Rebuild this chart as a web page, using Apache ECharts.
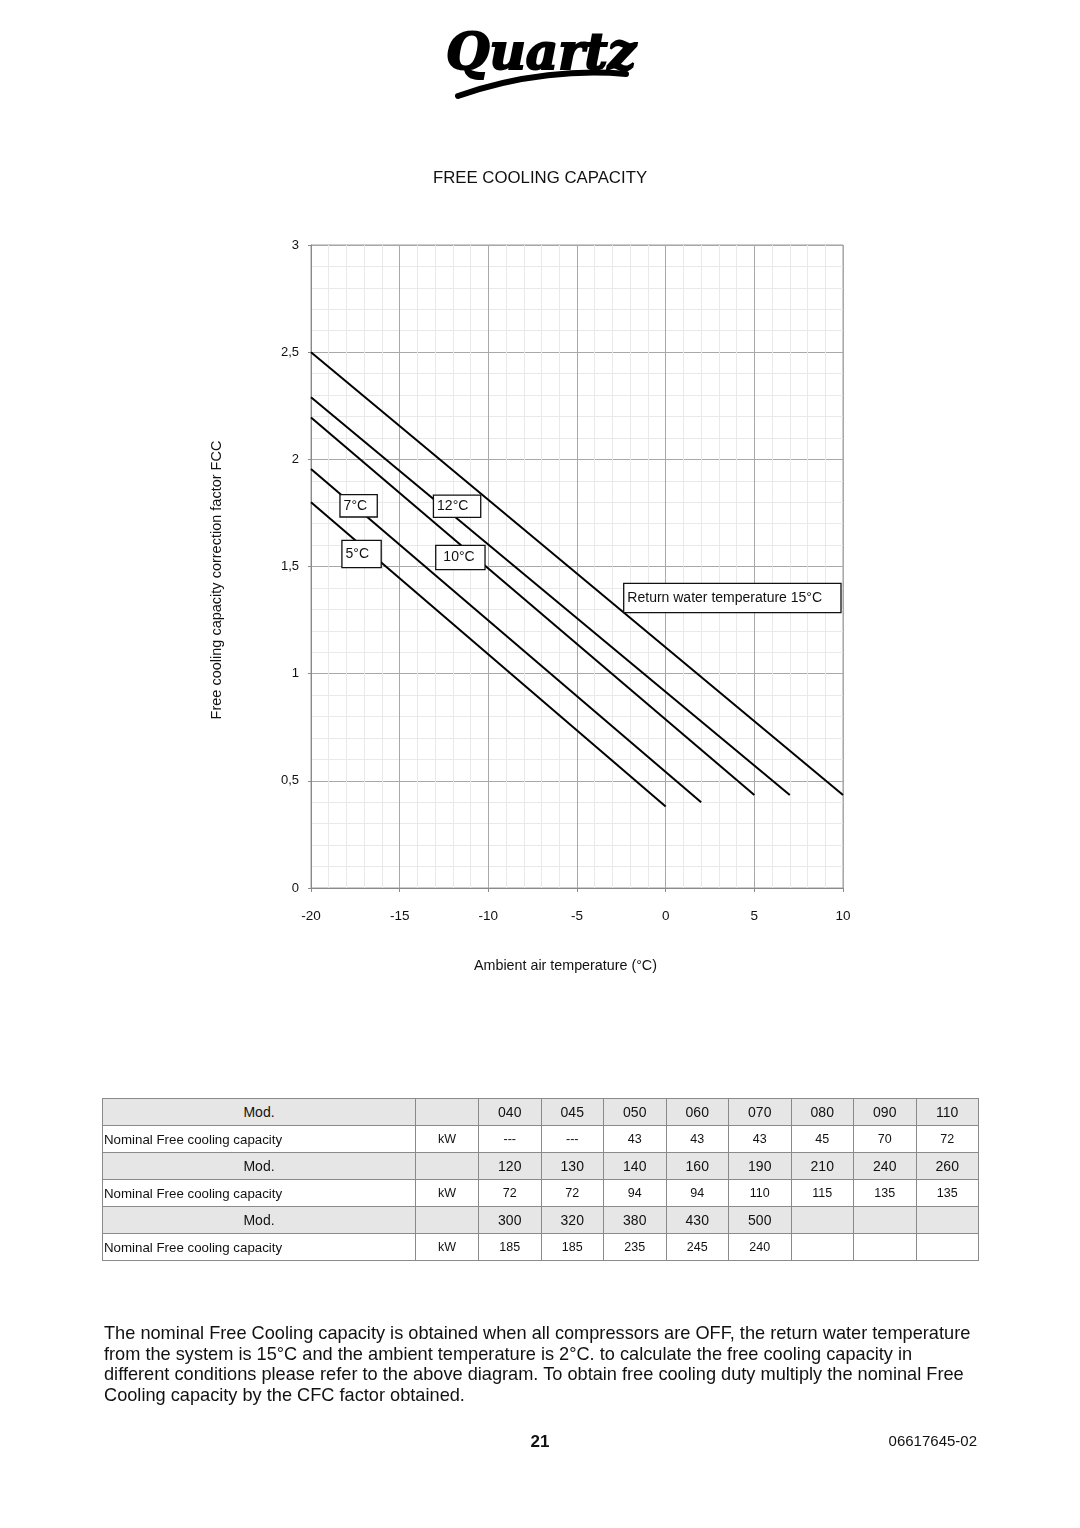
<!DOCTYPE html>
<html>
<head>
<meta charset="utf-8">
<script src="https://cdn.jsdelivr.net/npm/echarts@6/dist/echarts.min.js"></script>
<style>
  html, body { margin: 0; padding: 0; background: #fff; }
  body { width: 1080px; height: 1528px; position: relative; overflow: hidden; font-family: "Liberation Sans", Arial, sans-serif; color: #111; }
  #chart { position: absolute; left: 0; top: 0; width: 1080px; height: 1528px; }
  #tbl { position: absolute; left: 102px; top: 1098px; border-collapse: collapse; table-layout: fixed; width: 876px; }
  #tbl td { border: 1px solid #8a8a8a; height: 26px; padding: 0; text-align: center; vertical-align: middle; white-space: nowrap; overflow: hidden; }
  #tbl tr.mod td { background: #e6e6e6; font-size: 14px; }
  #tbl tr.kw td { background: #fff; font-size: 12.5px; }
  #tbl tr.kw td.name { text-align: left; padding-left: 1px; font-size: 13.3px; }
  #para { position: absolute; left: 104px; top: 1323px; font-size: 18.2px; line-height: 20.7px; white-space: nowrap; color: #111; }
  #page { position: absolute; left: 0; width: 1080px; top: 1432px; text-align: center; font-weight: bold; font-size: 17px; }
  #code { position: absolute; right: 103px; top: 1432px; font-size: 15px; }
</style>
</head>
<body>
<div id="chart"></div>
<table id="tbl"></table>
<div id="para">The nominal Free Cooling capacity is obtained when all compressors are OFF, the return water temperature<br>from the system is 15°C and the ambient temperature is 2°C. to calculate the free cooling capacity in<br>different conditions please refer to the above diagram. To obtain free cooling duty multiply the nominal Free<br>Cooling capacity by the CFC factor obtained.</div>
<div id="page">21</div>
<div id="code">06617645-02</div>
<script>
// ---- chart data ----
const seriesNames = ['5°C', '7°C', '10°C', '12°C', '15°C'];
const line5  = [[-20, 1.80], [0, 0.38]];
const line7  = [[-20, 1.955], [2, 0.40]];
const line10 = [[-20, 2.195], [5, 0.434]];
const line12 = [[-20, 2.29], [7, 0.434]];
const line15 = [[-20, 2.50], [10, 0.434]];
const boxLabels = ['5°C', '7°C', '10°C', '12°C', 'Return water temperature 15°C'];
const xTicks = [-20, -15, -10, -5, 0, 5, 10];
const yTicks = ['0', '0,5', '1', '1,5', '2', '2,5', '3'];

// ---- table data ----
const mods1 = ['040', '045', '050', '060', '070', '080', '090', '110'];
const kw1   = ['---', '---', '43', '43', '43', '45', '70', '72'];
const mods2 = ['120', '130', '140', '160', '190', '210', '240', '260'];
const kw2   = ['72', '72', '94', '94', '110', '115', '135', '135'];
const mods3 = ['300', '320', '380', '430', '500', '', '', ''];
const kw3   = ['185', '185', '235', '245', '240', '', '', ''];

// build table
(function () {
  const t = document.getElementById('tbl');
  let html = '<colgroup><col style="width:313px"><col style="width:63px">';
  for (let i = 0; i < 8; i++) html += '<col style="width:62.5px">';
  html += '</colgroup>';
  [[mods1, kw1], [mods2, kw2], [mods3, kw3]].forEach(([m, k]) => {
    html += '<tr class="mod"><td>Mod.</td><td></td>' + m.map(v => '<td>' + v + '</td>').join('') + '</tr>';
    html += '<tr class="kw"><td class="name">Nominal Free cooling capacity</td><td>kW</td>' + k.map(v => '<td>' + v + '</td>').join('') + '</tr>';
  });
  t.innerHTML = html;
})();

const FONT = '"Liberation Sans", Arial, sans-serif';
const chart = echarts.init(document.getElementById('chart'), null, { renderer: 'canvas' });

// coord = [x of box left edge, y of box centre]
function box(coord, text, w, h, padL) {
  return {
    coord: coord, value: 0, name: text,
    symbol: 'circle', symbolSize: 1,
    itemStyle: { color: 'rgba(0,0,0,0)' },
    label: {
      show: true, position: 'inside', formatter: text,
      color: '#111', fontSize: 14, fontFamily: FONT,
      backgroundColor: '#fff', borderColor: '#111', borderWidth: 1.3,
      width: w - padL, height: h, lineHeight: h,
      padding: [0, 0, 0, padL], align: 'left', verticalAlign: 'middle'
    }
  };
}

const lines = [line5, line7, line10, line12, line15];
const boxes = [
  box([-18.22, 1.558], boxLabels[0], 38, 26, 3),
  box([-18.33, 1.783], boxLabels[1], 36, 21, 3),
  box([-12.93, 1.542], boxLabels[2], 48, 23, 7),
  box([-13.06, 1.781], boxLabels[3], 46, 21, 3),
  box([-2.33, 1.353], boxLabels[4], 216, 28, 3)
];

const series = lines.map((d, i) => ({
  name: seriesNames[i], type: 'line', data: d, showSymbol: false, symbol: 'none',
  lineStyle: { color: '#000', width: 2 }, z: 3, silent: true, animation: false
}));
series.push({
  name: 'labels', type: 'line', data: [], showSymbol: false, z: 5, animation: false,
  markPoint: { data: boxes, animation: false, silent: true }
});

chart.setOption({
  animation: false,
  backgroundColor: '#fff',
  grid: { left: 311, top: 245, width: 532, height: 643, show: true, borderColor: '#9a9a9a', borderWidth: 1, backgroundColor: 'transparent' },
  xAxis: {
    type: 'value', min: -20, max: 10, interval: 5,
    axisLine: { show: true, onZero: false, lineStyle: { color: '#8a8a8a', width: 1 } },
    axisTick: { show: true, length: 4, lineStyle: { color: '#8a8a8a' } },
    axisLabel: { color: '#111', fontSize: 13.5, fontFamily: FONT, margin: 21, formatter: v => String(v) },
    splitLine: { show: true, lineStyle: { color: '#a8a8a8', width: 1 } },
    minorTick: { show: false, splitNumber: 5 },
    minorSplitLine: { show: true, lineStyle: { color: '#e9e9e9', width: 1 } }
  },
  yAxis: {
    type: 'value', min: 0, max: 3, interval: 0.5,
    axisLine: { show: true, onZero: false, lineStyle: { color: '#8a8a8a', width: 1 } },
    axisTick: { show: true, length: 3, lineStyle: { color: '#8a8a8a' } },
    axisLabel: { color: '#111', fontSize: 13, fontFamily: FONT, margin: 12,
      formatter: v => yTicks[Math.round(v * 2)] },
    splitLine: { show: true, lineStyle: { color: '#a8a8a8', width: 1 } },
    minorTick: { show: false, splitNumber: 5 },
    minorSplitLine: { show: true, lineStyle: { color: '#e9e9e9', width: 1 } }
  },
  series: series,
  graphic: [
    { type: 'text', x: 540, y: 178, style: { text: 'FREE COOLING CAPACITY', fontSize: 16.8, fontFamily: FONT, fill: '#111', align: 'center', verticalAlign: 'middle' } },
    { type: 'text', x: 565.5, y: 966, style: { text: 'Ambient air temperature (°C)', fontSize: 14.3, fontFamily: FONT, fill: '#111', align: 'center', verticalAlign: 'middle' } },
    { type: 'text', x: 217, y: 580, rotation: Math.PI / 2, style: { text: 'Free cooling capacity correction factor FCC', fontSize: 14.5, fontFamily: FONT, fill: '#111', align: 'center', verticalAlign: 'middle' } },
    // logo
    { type: 'text', x: 541, y: 56, style: { text: 'Quartz', fontSize: 50, fontWeight: 'bold', fontStyle: 'italic', fontFamily: '"DejaVu Serif", serif', fill: '#000', stroke: '#000', lineWidth: 2, align: 'center', verticalAlign: 'middle' } },
    { type: 'bezierCurve', shape: { x1: 458, y1: 96, x2: 626, y2: 74, cpx1: 520, cpy1: 74, cpx2: 580, cpy2: 70 }, style: { stroke: '#000', lineWidth: 6, lineCap: 'round', fill: null } }
  ]
});
</script>
</body>
</html>
